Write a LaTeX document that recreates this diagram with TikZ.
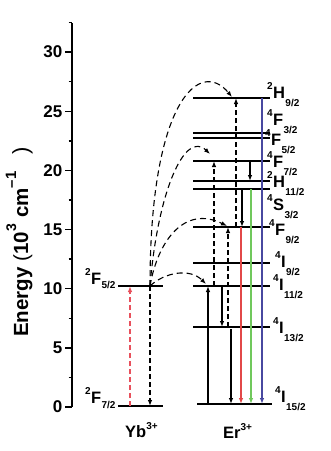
\documentclass[tikz,border=0pt]{standalone}
\usepackage{fontspec}
\setmainfont{Liberation Sans}
\usetikzlibrary{arrows.meta,calc}
\definecolor{ybred}{RGB}{232,80,92}
\definecolor{erred}{RGB}{226,72,72}
\definecolor{ergreen}{RGB}{112,200,92}
\definecolor{erblue}{RGB}{72,72,160}
\newcommand\trm[4][8]{{\fontsize{10}{10}\selectfont\raisebox{9pt}{#2}}\kern0.3pt{\fontsize{16.5}{16.5}\selectfont #3}\kern0.5pt{\fontsize{10}{10}\selectfont\raisebox{-#1pt}{#4}}}
\newcommand\varr[4]{\draw[#1] ([xshift=#2pt]#3) -- ([xshift=#2pt]#4);}
\newcommand\lev[3]{\draw[levelline] ([xshift=#2pt]#1) -- ([xshift=#3pt]#1);}
\begin{document}
\begin{tikzpicture}[x=1pt,y=-1pt,
  levelline/.style={line width=2pt},
  axisline/.style={line width=1.8pt},
  tip/.style={-{Latex[length=6pt,width=4.5pt]}},
  solidarr/.style={tip, line width=1.1pt},
  dasharr/.style={tip, line width=1.1pt, dash pattern=on 5pt off 3pt},
  curvarr/.style={tip, line width=1.1pt, dash pattern=on 6pt off 4pt},
  ticklab/.style={font=\fontsize{17}{17}\selectfont\bfseries, anchor=east, inner sep=0},
  termlab/.style={anchor=base west, inner sep=0, font=\bfseries},
]
\useasboundingbox[fill=white] (0,0) rectangle (331,451);

% axis
\coordinate (axbot) at (72,407);
\coordinate (axtop) at (72,22.5);
\draw[axisline] (axbot) -- (axtop);
\foreach \v in {0,5,...,30}{
  \draw[line width=1.4pt] (65,{407-11.83*\v}) -- (72,{407-11.83*\v});
  \node[ticklab] at (62.5,{407-11.83*\v}) {\v};
}
\foreach \v in {2.5,7.5,...,32.5}{
  \draw[line width=1.4pt] (68.5,{407-11.83*\v}) -- (72,{407-11.83*\v});
}
\node[rotate=90, anchor=base west, inner sep=0, font=\fontsize{20.5}{20.5}\selectfont\bfseries] (ylab) at (28,337)
 {Energy\hspace{6pt}{\mdseries(}10{\fontsize{14}{14}\selectfont\raisebox{12pt}{3}}\hspace{6pt}cm{\fontsize{15}{15}\selectfont\raisebox{12pt}{–1}}\hspace{17pt}{\mdseries\fontsize{22}{22}\selectfont)}};

% level coordinates
\coordinate (ybU) at (0,286);
\coordinate (ybG) at (0,406);
\coordinate (H92) at (0,98);
\coordinate (F32) at (0,132.5);
\coordinate (F52) at (0,137.5);
\coordinate (F72) at (0,161);
\coordinate (H112) at (0,181);
\coordinate (S32) at (0,189);
\coordinate (F92) at (0,227);
\coordinate (I92) at (0,263);
\coordinate (I112) at (0,286);
\coordinate (I132) at (0,327);
\coordinate (I152) at (0,404);

% Yb levels
\lev{ybU}{118}{163}
\lev{ybG}{118}{163}
% Er levels
\foreach \l in {H92,F32,F52,F72,H112,S32,F92,I92,I112,I132}{\lev{\l}{193}{270}}
\lev{I152}{197}{272}

% Yb labels
\node[termlab] (lyb1) at (85,284) {\trm[4]{2}{F}{5/2}};
\node[termlab] (lyb2) at (85,403) {\trm[5]{2}{F}{7/2}};
\node[termlab] (yb) at (125,437) {\fontsize{16.5}{16.5}\selectfont Yb{\fontsize{10}{10}\selectfont\raisebox{8pt}{3+}}};
\node[termlab] (er) at (223,438) {\fontsize{16.5}{16.5}\selectfont Er{\fontsize{10}{10}\selectfont\raisebox{8pt}{3+}}};

% Er labels
\node[termlab] (l1) at (267,98) {\trm{2}{H}{9/2}};
\node[termlab] (l2) at (267,125) {\trm{4}{F}{3/2}};
\node[termlab] (l3) at (265,145) {\trm{4}{F}{5/2}};
\node[termlab] (l4) at (267,167) {\trm{4}{F}{7/2}};
\node[termlab] (l5) at (267,187) {\trm{2}{H}{11/2}};
\node[termlab] (l6) at (267,210) {\trm{4}{S}{3/2}};
\node[termlab] (l7) at (269,235) {\trm{4}{F}{9/2}};
\node[termlab] (l8) at (275,267) {\trm{4}{I}{9/2}};
\node[termlab] (l9) at (273,290) {\trm{4}{I}{11/2}};
\node[termlab] (l10) at (273,333) {\trm{4}{I}{13/2}};
\node[termlab] (l11) at (275,402) {\trm{4}{I}{15/2}};

% Yb arrows
\varr{dasharr,ybred}{130}{ybG}{ybU}
\varr{dasharr}{150}{ybU}{ybG}

% Er arrows
\varr{solidarr}{208}{I152}{I112}
\varr{dasharr}{214}{I112}{F72}
\varr{solidarr}{222}{I112}{I132}
\varr{dasharr}{228}{I132}{F92}
\draw[solidarr] ([xshift=231pt,yshift=-2pt]I132) -- ([xshift=231pt]I152);
\varr{dasharr}{236}{F92}{H92}
\varr{solidarr}{242}{S32}{F92}
\varr{solidarr,erred}{241}{F92}{I152}
\varr{solidarr}{250}{F72}{H112}
\varr{solidarr,ergreen}{251}{S32}{I152}
\varr{solidarr,erblue}{262}{H92}{I152}

% energy transfer curves
\coordinate (src) at (150,286);
\coordinate (eH) at (232,97);
\coordinate (eF7) at (210,154);
\coordinate (eF9) at (227,226);
\coordinate (eI11) at (206,284);
\draw[curvarr] (src) .. controls (150,100) and (200,58) .. (eH);
\draw[curvarr] (src) .. controls (158,190) and (185,130) .. (eF7);
\draw[curvarr] (src) .. controls (158,240) and (185,205) .. (eF9);
\draw[curvarr] (src) .. controls (165,272) and (190,268) .. (eI11);
\end{tikzpicture}
\end{document}
